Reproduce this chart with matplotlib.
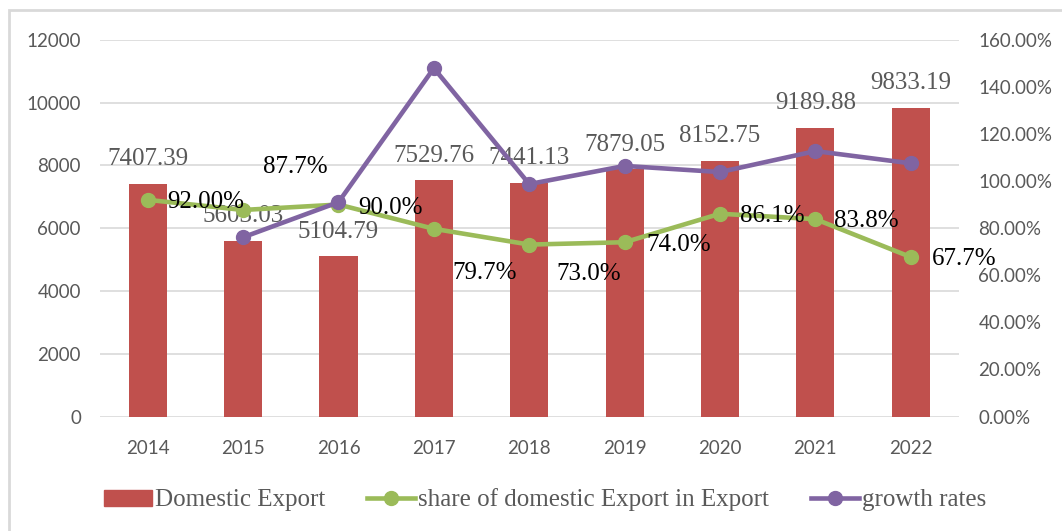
import matplotlib
matplotlib.use("Agg")
import matplotlib.pyplot as plt
from matplotlib.patches import Rectangle
from matplotlib.ticker import FuncFormatter, MultipleLocator

years = ["2014", "2015", "2016", "2017", "2018", "2019", "2020", "2021", "2022"]
domestic_export = [7407.39, 5603.03, 5104.79, 7529.76, 7441.13, 7879.05, 8152.75, 9189.88, 9833.19]
share_pct = [92.0, 87.7, 90.0, 79.7, 73.0, 74.0, 86.1, 83.8, 67.7]
share_labels = ["92.00%", "87.7%", "90.0%", "79.7%", "73.0%", "74.0%", "86.1%", "83.8%", "67.7%"]
growth_pct = [None, 76.1, 91.0, 147.9, 98.7, 106.4, 103.8, 112.7, 107.5]

BAR = "#C0504D"
GREEN = "#9BBB59"
PURPLE = "#8064A2"
GRID = "#D9D9D9"
TXT = "#595959"
SERIF = ["Liberation Serif", "DejaVu Serif"]
SANS = ["Lato", "DejaVu Sans"]
PX = 0.72  # points per pixel at dpi 100

fig = plt.figure(figsize=(10.62, 5.31), dpi=100)
W, H = 1062, 531
ax = fig.add_axes([100 / W, 1 - 416.5 / H, 858.5 / W, 376.8 / H])
ax2 = ax.twinx()

x = list(range(len(years)))
ax.bar(x, domestic_export, width=0.4, color=BAR, zorder=2)
ax.set_xlim(-0.5, len(years) - 0.5)
ax.set_ylim(0, 12000)
ax.yaxis.set_major_locator(MultipleLocator(2000))
ax.grid(axis="y", color=GRID, lw=1.2, zorder=0)
ax.set_axisbelow(True)
ax.set_xticks(x)
ax.set_xticklabels(years)
for s in ax.spines.values():
    s.set_visible(False)
for s in ax2.spines.values():
    s.set_visible(False)
ax.tick_params(axis="both", length=0, colors=TXT)
ax.tick_params(axis="y", pad=19 * PX)
ax.tick_params(axis="x", pad=24 * PX)
for lab in ax.get_xticklabels() + ax.get_yticklabels():
    lab.set_family(SANS)
    lab.set_fontsize(13.5)

gx = [i for i, g in zip(x, growth_pct) if g is not None]
gy = [g / 100 for g in growth_pct if g is not None]
ax2.plot(x, [s / 100 for s in share_pct], color=GREEN, lw=3.3, marker="o", ms=10,
         zorder=3, label="share of domestic Export in Export")
ax2.plot(gx, gy, color=PURPLE, lw=3.3, marker="o", ms=10, zorder=4, label="growth rates")
ax2.set_ylim(0, 1.6)
ax2.yaxis.set_major_locator(MultipleLocator(0.2))
ax2.yaxis.set_major_formatter(FuncFormatter(lambda v, p: f"{v * 100:.2f}%"))
ax2.tick_params(axis="y", length=0, colors=TXT, pad=20 * PX)
for lab in ax2.get_yticklabels():
    lab.set_family(SANS)
    lab.set_fontsize(13.5)

# bar value labels
for i, v in zip(x, domestic_export):
    ax.annotate(f"{v:.2f}", (i, v), xytext=(0, 18.5 * PX), textcoords="offset points",
                ha="center", va="baseline", fontsize=18, family=SERIF, color=TXT, zorder=5)

# share labels (pixel offsets: right, down)
offsets = [(20, 8), (20, -37), (20, 9), (19, 50), (27, 35), (22, 8.5), (20, 8), (19, 8), (21, 8)]
for i, (s, lab, (dx, dy)) in enumerate(zip(share_pct, share_labels, offsets)):
    ax2.annotate(lab, (i, s / 100), xytext=(dx * PX, -dy * PX), textcoords="offset points",
                 ha="left", va="baseline", fontsize=18, family=SERIF, color="black", zorder=6)

# legend
h1, l1 = ax.get_legend_handles_labels()
from matplotlib.patches import Patch
bar_handle = Patch(color=BAR, label="Domestic Export")
h2, l2 = ax2.get_legend_handles_labels()
leg = fig.legend([bar_handle] + h2, ["Domestic Export"] + l2, loc="center",
                 bbox_to_anchor=(545 / W, 1 - 500 / H), ncol=3, frameon=False,
                 prop={"family": SERIF, "size": 18}, handlelength=1.9, handletextpad=0.12,
                 columnspacing=1.7, numpoints=1, handleheight=0.6)
for t in leg.get_texts():
    t.set_color(TXT)

# chart border
fig.patches.append(Rectangle((9 / W, -0.05), 1.2, 1 - 10 / H + 0.05, transform=fig.transFigure,
                             fill=False, edgecolor=GRID, lw=2))

fig.savefig("out.png", dpi=100)
